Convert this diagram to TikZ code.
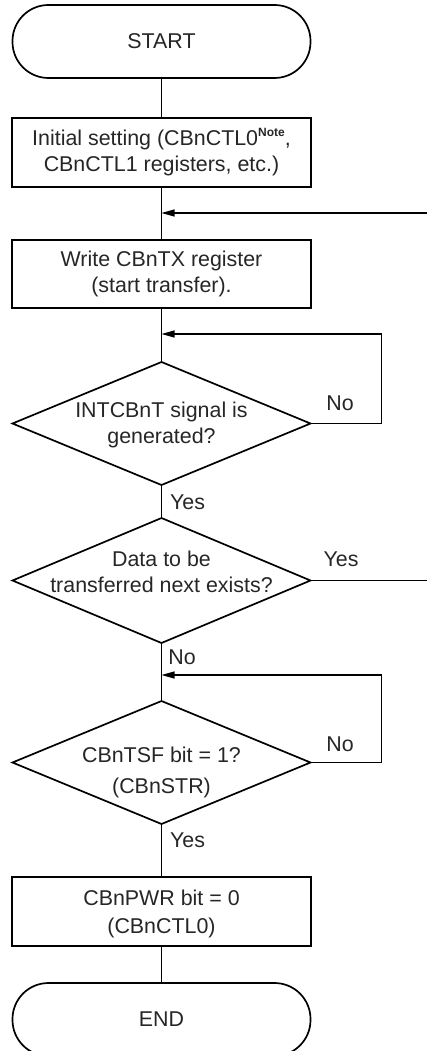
\documentclass[tikz,border=0pt]{standalone}
\usepackage{fontspec}
\setmainfont{Liberation Sans}
\usetikzlibrary{shapes.geometric,arrows.meta}
\begin{document}
\begin{tikzpicture}[x=1pt,y=-1pt,
  every node/.style={font=\fontsize{21.4}{26}\selectfont, text=black!85},
  term/.style={draw, line width=1.7pt, rounded corners=36pt, minimum width=298pt, minimum height=73pt, inner sep=0pt, outer sep=0pt},
  procbox/.style={draw, line width=1.7pt, minimum width=299pt, minimum height=69pt, inner sep=0pt, outer sep=0pt, align=center},
  decision/.style={draw, line width=1.7pt, shape=diamond, minimum width=298pt, minimum height=123pt, inner sep=0pt, outer sep=0pt},
  txt/.style={align=center, inner sep=0pt},
  lbl/.style={inner sep=0pt},
  conn/.style={line width=1.1pt},
  arr/.style={line width=1.1pt, -{Triangle[length=13pt,width=7pt]}}
]
\useasboundingbox (0,0) rectangle (427,1051);
\clip (0,0) rectangle (427,1051);

\node[term] (start) at (161.5,41.5) {START};
\node[procbox] (init) at (161.5,152.5) {Initial setting (CBnCTL0\raisebox{9pt}{\fontsize{12}{12}\selectfont\bfseries Note},\\CBnCTL1 registers, etc.)};
\node[procbox, minimum height=68pt] (write) at (161.5,274) {Write CBnTX register\\(start transfer).};
\node[decision] (d1) at (161.5,423.5) {};
\node[txt] (t1) at (161.5,425) {INTCBnT signal is\\generated?};
\node[decision, minimum height=125pt] (d2) at (161.5,580.5) {};
\node[txt] (t2) at (161.5,572) {Data to be\\transferred next exists?};
\node[decision] (d3) at (161.5,762.5) {};
\node[txt, font=\fontsize{21.4}{31}\selectfont] (t3) at (161.5,772) {CBnTSF bit = 1?\\(CBnSTR)};
\node[procbox] (pwr) at (161.5,911.5) {};
\node[txt, font=\fontsize{21.4}{28}\selectfont] (t4) at (161.5,914) {CBnPWR bit = 0\\(CBnCTL0)};
\node[term] (end) at (161.5,1019.5) {END};

\coordinate (j0) at (161.5,213);
\coordinate (r1) at (427,213);
\coordinate (j1) at (161.5,334);
\coordinate (j3) at (161.5,675);
\coordinate (r2) at (427,580.5);

\draw[conn] (start.south) -- (init.north);
\draw[conn] (init.south) -- (write.north);
\draw[arr] (r1) -- (j0);
\draw[conn] (write.south) -- (d1.north);
\draw[arr] (d1.east) -- ++(71,0) |- (j1);
\draw[conn] (d1.south) -- (d2.north);
\draw[conn] (d2.east) -- (r2);
\draw[conn] (d2.south) -- (d3.north);
\draw[arr] (d3.east) -- ++(71,0) |- (j3);
\draw[conn] (d3.south) -- (pwr.north);
\draw[conn] (pwr.south) -- (end.north);

\node[lbl] (n1) at (340,403) {No};
\node[lbl] (y1) at (187.5,502) {Yes};
\node[lbl] (y2) at (341,559) {Yes};
\node[lbl] (n2) at (182,657) {No};
\node[lbl] (n3) at (340,744) {No};
\node[lbl] (y3) at (187.5,840) {Yes};
\end{tikzpicture}
\end{document}
